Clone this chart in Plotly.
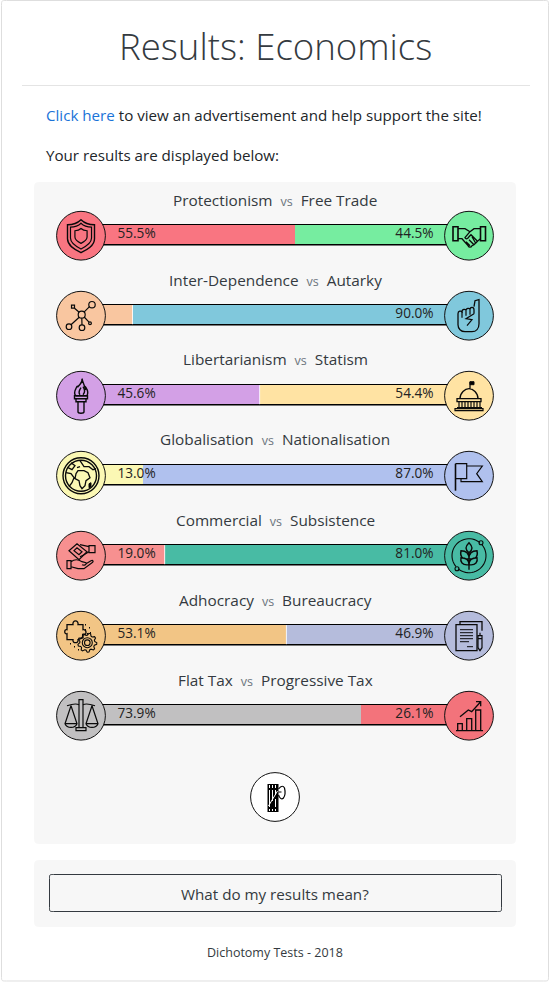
import math
import re
import plotly.graph_objects as go

# Test results: one row per axis
left_names = ["Protectionism", "Inter-Dependence", "Libertarianism", "Globalisation",
              "Commercial", "Adhocracy", "Flat Tax"]
right_names = ["Free Trade", "Autarky", "Statism", "Nationalisation",
               "Subsistence", "Bureaucracy", "Progressive Tax"]
left_values = [55.5, 10.0, 45.6, 13.0, 19.0, 53.1, 73.9]
right_values = [44.5, 90.0, 54.4, 87.0, 81.0, 46.9, 26.1]
show_left_label = [True, False, True, True, True, True, True]

left_colors = ["#F97581", "#F9C6A0", "#D3A0E6", "#FBF8B4", "#F79090", "#F2C585", "#C1C0C1"]
right_colors = ["#76EDA0", "#80C8DC", "#FFE3A3", "#B0C1EE", "#48BBA4", "#B5BCDC", "#F3737B"]
separated_rows = [1, 2, 4, 5]

W, H = 550, 982
PCT_PX = 3.571     # pixels per percentage point
ZERO_PX = 96.8     # pixel position of 0 %
ROW_PX = 80.0      # row spacing
ROW0_PX = 234.7    # centre of the first bar
BAR_H = 19 / ROW_PX
RAIL_H = 21.5 / ROW_PX

FONT = "Open Sans"
INK = "#343a40"


def fx(px):
    return px / W


def fy(px):
    return 1 - px / H


def to_paper(cx, cy, d, s=1.0):
    """Shift and scale an absolute M/L/C/Z path from icon space into paper coordinates."""
    out, is_x = [], True
    for tok in re.findall(r"[MLCZ]|-?\d+\.?\d*", d):
        if tok in "MLCZ":
            out.append(tok)
            is_x = True
        elif is_x:
            out.append(f"{fx(cx + float(tok) * s):.5f}")
            is_x = False
        else:
            out.append(f"{fy(cy + float(tok) * s):.5f}")
            is_x = True
    return " ".join(out)


def ring(x, y, r):
    k = 0.5523 * r
    return (f"M{x - r} {y} C{x - r} {y - k} {x - k} {y - r} {x} {y - r} "
            f"C{x + k} {y - r} {x + r} {y - k} {x + r} {y} "
            f"C{x + r} {y + k} {x + k} {y + r} {x} {y + r} "
            f"C{x - k} {y + r} {x - r} {y + k} {x - r} {y} Z ")


def arc(r, a0, a1, n=24):
    pts = [(r * math.cos(math.radians(a0 + (a1 - a0) * i / n)),
            r * math.sin(math.radians(a0 + (a1 - a0) * i / n))) for i in range(n + 1)]
    return "M" + " L".join(f"{x:.2f} {y:.2f}" for x, y in pts) + " "


def gear(x, y, ro, ri, teeth=9):
    pts = []
    for i in range(teeth * 4):
        a = 2 * math.pi * i / (teeth * 4)
        r = ro if i % 4 in (0, 1) else ri
        pts.append((x + r * math.cos(a), y + r * math.sin(a)))
    return "M" + " L".join(f"{a:.2f} {b:.2f}" for a, b in pts) + " Z "


SHIELD = ("M-13.5 -11 C-8 -11 -3 -13 0 -16 C3 -13 8 -11 13.5 -11 L13.5 3 "
          "C13.5 10 6 14 0 17 C-6 14 -13.5 10 -13.5 3 Z")

# Each icon is a list of (path, scale, stroke width, fill)
ICONS = {
    "shield": [(SHIELD, 1.0, 1.4, None), (SHIELD, 0.78, 1.2, None), (SHIELD, 0.45, 1.2, None)],
    "handshake": [
        ("M-16 -9 L-11 -9 L-11 5 L-16 5 Z M11.5 -9 L16.5 -9 L16.5 5 L11.5 5 Z", 1, 1.6, None),
        ("M-11 -7 L-4 -7 L1 -4 L5 -7 L11.5 -7 M-11 3 L-7 3 L-1 10 C0 12 2 12 3 10 L5 9 L7 7 L9 5 L11.5 3 "
         "M1 -4 L-4 2 C-3 4 -1 3 0 1 L2 -1 L8 5 M3 1 L7 8 M0 4 L5 9 M-3 6 L1 10", 1, 1.3, None),
    ],
    "network": [
        (ring(0.7, -1, 3.5) + ring(11, -11, 3.2) + ring(-12, 11, 2.8) + ring(1, 12, 2.8) + ring(9, 7.5, 1.4)
         + "M-9.5 -10.5 L-6.5 -10.5 L-6.5 -7.5 L-9.5 -7.5 Z", 1, 1.2, None),
        ("M-6.5 -7.5 L-1.8 -3.4 M3 -3.5 L8.5 -9 M-1.8 1.5 L-10 9 M0.8 2.5 L1 9.2 M3.2 1.3 L8 6.5", 1, 1.2, None),
    ],
    "fist": [
        ("M5 -9 L6 -15 L10 -16 L10 8 C10 13 7 16 3 16 L-4 16 C-8 16 -11 13 -11 9 L-11 -2 "
         "C-11 -5 -8 -5 -7 -4 C-7 -7 -3 -7 -3 -5 C-3 -8 1 -8 1 -6 C1 -9 5 -9 5 -6 L5 -2", 1, 1.3, None),
        ("M-7 -4 L-7 2 M-3 -5 L-3 0 M1 -6 L1 -1 M5 -2 L-3 3 L3 4 L-2 10", 1, 1.2, None),
    ],
    "torch": [
        ("M1 -17 C2 -13 -1 -12 -3 -9 C-4 -11 -5 -7 -6 -5 C-7 -1 -5 0 -5 0 L6 0 C7 -2 7 -5 5 -8 "
         "C5 -6 4 -6 4 -7 C4 -10 2 -12 1 -17 Z", 1, 1.4, None),
        ("M0 -8 C-2 -5 -3 -3 -1 -1 M2 -9 C4 -6 4 -3 2 -1 M-6.5 0 L6.5 0 L6.5 3 L-6.5 3 Z M-5 3 L-5 6 L5 6 L5 3 "
         "M-3 6 L-3 16 C-3 18 3 18 3 16 L3 6", 1, 1.4, None),
    ],
    "capitol": [
        ("M1 -14 L5 -14 L5 -11 L1 -11 Z", 1, 1, "black"),
        ("M1 -14 L1 -7 M-9 3 C-9 -3 -4 -7 0 -7 C4 -7 9 -3 9 3 Z M-12 3 L12 3 L12 6 L-12 6 Z", 1, 1.3, None),
        ("M-10 6 L-10 12 M-7 6 L-7 12 M-4 6 L-4 12 M-1 6 L-1 12 M2 6 L2 12 M5 6 L5 12 M8 6 L8 12 M11 6 L11 12 "
         "M-12 12 L13 12 M-14 13 L14 13 L14 15 L-14 15 Z", 1, 1.2, None),
    ],
    "globe": [
        (ring(0, 0, 18) + ring(0, 0, 15.5), 1, 1.4, None),
        ("M-5 -2 L-3 -5 L3 -5 L7 -3 L9 2 L5 5 L4 10 L1 13 L-1 10 L-2 5 L-6 3 Z "
         "M-15 -3 L-10 -2 L-7 2 L-9 7 L-12 11 M-10 -13 L-6 -10 L-9 -6 L-13 -8 "
         "M-1 -15 L3 -9 L8 -9 L12 -6 L15 -7 M-4 -8 L-1 -9", 1, 1.3, None),
        ("M8 8 L10 7 L10 11 L8 12 Z", 1, 1, "black"),
    ],
    "flag": [
        ("M-13.5 -12 L-13.5 15", 1, 1.6, "#5b6a99"),
        ("M-13.5 -12 L-2.3 -12 L-2.3 3 L-13.5 3 M-2.3 -9.7 L13.3 -9.7 L7.7 -2 L13.3 6 L-8 6 L-8 3", 1, 1.2, None),
    ],
    "deal": [
        ("M-12 -5 L-4 -12 L6 -4 L-2 4 Z M-7 -5 L-4 -8 L1 -4 L-2 -1 Z M8 -10 L14 -10 L14 -3 L8 -3 Z", 1, 1.2, None),
        ("M8 -9 L-1 -11 M8 -4 L3 -1 L-1 1 M-14 5 L-10 5 L-10 13 L-14 13 Z "
         "M-10 6 C-6 3 -2 4 1 6 L5 7 C6 9 3 10 1 9 M5 8 L10 5 C12 4 13 6 11 7 L3 13 L-3 13 L-10 11", 1, 1.2, None),
    ],
    "wheat": [
        (arc(17, -40, 130) + arc(17, 140, 310), 1, 1.1, None),
        (ring(12, -13, 2) + ring(-12, 13, 2), 1, 1.1, None),
        ("M0 -13 C4 -9 4 -6 0 -3 C-4 -6 -4 -9 0 -13 Z M0 -3 L0 14 "
         "M0 3 C-8 4 -9 0 -8 -5 C-3 -5 0 -2 0 3 Z M0 3 C8 4 9 0 8 -5 C3 -5 0 -2 0 3 Z "
         "M0 9 C-7 10 -9 6 -8 2 C-3 2 0 4 0 9 Z M0 9 C7 10 9 6 8 2 C3 2 0 4 0 9 Z", 1, 1.4, None),
    ],
    "puzzle": [
        ("M-14 -11 L-8 -11 C-9 -16 -2 -16 -3 -11 L2 -11 L2 -6 C6 -7 6 0 2 -1 L2 2 L-3 4 "
         "C-2 8 -9 8 -8 4 L-14 4 L-14 -2 C-17 -1 -17 -7 -14 -6 Z", 1, 1.3, None),
        (gear(6.3, 7, 9.5, 7.5) + ring(6.3, 7, 5) + ring(6.3, 7, 2.8), 1, 1.1, None),
        ("M4 -11 L5 -11 M8 -8 L9 -8 M4 -6 L5 -6 M9 -3 L10 -3 M6 -2 L7 -2 M-11 8 L-10 8 M-7 11 L-6 11 M-3 14 L-2 14",
         1, 1.6, None),
    ],
    "document": [
        ("M-13 -11 L8 -11 L8 15 L-13 15 Z M-9 -11 L-9 -14 L13 -14 L13 -5", 1, 1.3, None),
        ("M-9 -6 L4 -6 M-9 -3 L4 -3 M-9 0 L4 0 M-9 3 L4 3 M-9 6 L0 6 M-2 11 L4 11", 1, 1, None),
        ("M9 0 L9 12 L11 15 L13 12 L13 0 Z M9 3 L13 3 M11 -3 L11 0", 1, 1.2, "#B5BCDC"),
    ],
    "scales": [
        ("M-2 -16 L2 -16 L2 12 L-2 12 Z M-5 12 L5 12 L5 15 L-5 15 Z", 1, 1.2, None),
        ("M-14 -10 C-8 -12 -4 -12 -2 -11 M2 -11 C4 -12 8 -12 14 -10 "
         "M-10 -10 L-16 8 C-14 13 -6 13 -4 8 L-10 -10 M-16 8 L-4 8 "
         "M11 -10 L5 8 C7 13 15 13 17 8 L11 -10 M5 8 L17 8", 1, 1.2, None),
    ],
    "growth": [
        ("M-11.3 8 L-6.7 8 L-6.7 15 L-11.3 15 Z M-2.3 3 L2.7 3 L2.7 15 L-2.3 15 Z "
         "M6.7 -5.7 L11.7 -5.7 L11.7 15 L6.7 15 Z M-13 15 L14 15", 1, 1.3, None),
        ("M-9 1 L-0.7 -5.7 L2.7 -4 L11.7 -14 M7 -14 L11.7 -14 L11.7 -9.5", 1, 1.3, None),
    ],
}

row_icons = [("shield", "handshake"), ("network", "fist"), ("torch", "capitol"), ("globe", "flag"),
             ("deal", "wheat"), ("puzzle", "document"), ("scales", "growth")]

shapes = []


def rounded(x0, y0, x1, y1, r):
    d = (f"M{x0 + r} {y0} L{x1 - r} {y0} C{x1} {y0} {x1} {y0} {x1} {y0 + r} L{x1} {y1 - r} "
         f"C{x1} {y1} {x1} {y1} {x1 - r} {y1} L{x0 + r} {y1} C{x0} {y1} {x0} {y1} {x0} {y1 - r} "
         f"L{x0} {y0 + r} C{x0} {y0} {x0} {y0} {x0 + r} {y0} Z")
    return to_paper(0, 0, d)


def panel(x0, y0, x1, y1, r, fill, line=None, width=1):
    shapes.append(dict(type="path", xref="paper", yref="paper", layer="below", path=rounded(x0, y0, x1, y1, r),
                       fillcolor=fill, line=dict(color=line or "rgba(0,0,0,0)", width=width if line else 0)))


def disc(cx, cy, fill):
    r = 24.4
    shapes.append(dict(type="circle", xref="paper", yref="paper", layer="above",
                       x0=fx(cx - r), x1=fx(cx + r), y0=fy(cy - r), y1=fy(cy + r),
                       fillcolor=fill, line=dict(color="#111", width=1)))


def icon(name, cx, cy):
    for d, s, w, fill in ICONS[name]:
        shapes.append(dict(type="path", xref="paper", yref="paper", layer="above", path=to_paper(cx, cy, d, s),
                           fillcolor=fill or "rgba(0,0,0,0)", line=dict(color="#0a0a0a", width=w)))


# Page furniture
panel(1.5, 0.5, 548.5, 981, 5, "#ffffff", "#dedede", 1)
shapes.append(dict(type="line", xref="paper", yref="paper", layer="below", x0=fx(22), x1=fx(530), y0=fy(85.5), y1=fy(85.5),
                   line=dict(color="#e4e4e4", width=1)))
panel(34, 182, 516, 844, 10, "#f7f7f7")
panel(34, 860, 516, 927, 10, "#f7f7f7")
panel(49.5, 874.5, 501.5, 911.5, 4, "rgba(0,0,0,0)", "#343a40", 1)

rows = list(range(len(left_names)))

# Black rails above and below each bar
for i in rows:
    shapes.append(dict(type="rect", xref="x", yref="y", layer="below", x0=0, x1=100,
                       y0=i - RAIL_H / 2, y1=i + RAIL_H / 2, fillcolor="#000", line=dict(width=0)))

# Thin white divider where the two segments meet
for i in separated_rows:
    shapes.append(dict(type="line", xref="x", yref="y", layer="above", x0=left_values[i], x1=left_values[i],
                       y0=i - BAR_H / 2, y1=i + BAR_H / 2, line=dict(color="rgba(255,255,255,0.85)", width=1)))

# Icon discs at both ends of each bar
for i in rows:
    cy = ROW0_PX + ROW_PX * i + 1
    disc(81, cy, left_colors[i])
    disc(469, cy, right_colors[i])
    icon(row_icons[i][0], 81, cy)
    icon(row_icons[i][1], 469, cy)

# Fasces seal below the last row
disc(275, 797, "#ffffff")
shapes.append(dict(type="path", xref="paper", yref="paper", layer="above",
                   path=to_paper(273.5, 797, "M-6 -13 L5 -13 L5 15 L-6 15 Z"), fillcolor="#000", line=dict(width=0)))
shapes.append(dict(type="path", xref="paper", yref="paper", layer="above",
                   path=to_paper(273.5, 797, "M-4 -12 L-4 -9 M-1 -12 L-1 -9 M2 -12 L2 -9 M-4 -7 L-4 10 M-1 -7 L-1 4 "
                                             "M2 -7 L2 -2 M-4 12 L-4 14 M-1 12 L-1 14 M2 12 L2 14 M4 -6 L-5 9 M2 2 L2 10"),
                   fillcolor="rgba(0,0,0,0)", line=dict(color="#fff", width=1)))
shapes.append(dict(type="path", xref="paper", yref="paper", layer="above",
                   path=to_paper(273.5, 797, "M5 -8 C8 -12 10 -11 11 -9 C12 -5 12 -2 10 1 C8 3 6 1 5 -2 M5 -5 L8 -5"),
                   fillcolor="rgba(0,0,0,0)", line=dict(color="#000", width=1.2)))

fig = go.Figure()

fig.add_trace(go.Bar(y=rows, x=left_values, orientation="h", width=BAR_H, marker=dict(color=left_colors, line=dict(width=0)),
                     hoverinfo="skip"))
fig.add_trace(go.Bar(y=rows, x=right_values, orientation="h", width=BAR_H, marker=dict(color=right_colors, line=dict(width=0)),
                     hoverinfo="skip"))

# Percentages sit at fixed inset positions inside the bar
label_font = dict(family=FONT, size=13.6, color="#222222")
left_rows = [i for i in rows if show_left_label[i]]
fig.add_trace(go.Scatter(x=[(117.5 - ZERO_PX) / PCT_PX] * len(left_rows), y=left_rows, mode="text",
                         text=[f"{left_values[i]:.1f}%" for i in left_rows], textposition="middle right",
                         textfont=label_font, hoverinfo="skip"))
fig.add_trace(go.Scatter(x=[(433.5 - ZERO_PX) / PCT_PX] * len(rows), y=rows, mode="text",
                         text=[f"{v:.1f}%" for v in right_values], textposition="middle left",
                         textfont=label_font, hoverinfo="skip"))

annotations = []


def note(text, x, y, size, color=INK, anchor="center", weight=None):
    annotations.append(dict(text=text, x=fx(x), y=fy(y), xref="paper", yref="paper", showarrow=False,
                            xanchor=anchor, yanchor="middle", align=anchor,
                            font=dict(family=FONT, size=size, color=color, weight=weight)))


note("Results: Economics", 275, 46, 36.6, "#343a40", weight=300)
note("<span style='color:#1a73d8'>Click here</span> to view an advertisement and help support the site!",
     44, 114.5, 15.15, "#212529", "left")
note("Your results are displayed below:", 44, 154.5, 15.15, "#212529", "left")
for i in rows:
    note(f"{left_names[i]}\u00a0\u00a0<span style='font-size:12.5px;color:#6c757d'>vs</span>\u00a0\u00a0{right_names[i]}",
         275, 199.5 + ROW_PX * i, 15.35, INK)
note("What do my results mean?", 275, 893.5, 15.2, INK)
note("Dichotomy Tests - 2018", 275, 952, 12.5, "#343a40")

fig.update_layout(
    width=W, height=H, autosize=False, margin=dict(l=0, r=0, t=0, b=0, pad=0),
    paper_bgcolor="#ffffff", plot_bgcolor="rgba(0,0,0,0)", barmode="stack", showlegend=False,
    shapes=shapes, annotations=annotations, hovermode=False,
    xaxis=dict(range=[-ZERO_PX / PCT_PX, (W - ZERO_PX) / PCT_PX], domain=[0, 1], visible=False, fixedrange=True),
    yaxis=dict(range=[(H - ROW0_PX) / ROW_PX, -ROW0_PX / ROW_PX], domain=[0, 1], visible=False, fixedrange=True),
)

fig.write_html("out.html", config=dict(displayModeBar=False, responsive=False))
